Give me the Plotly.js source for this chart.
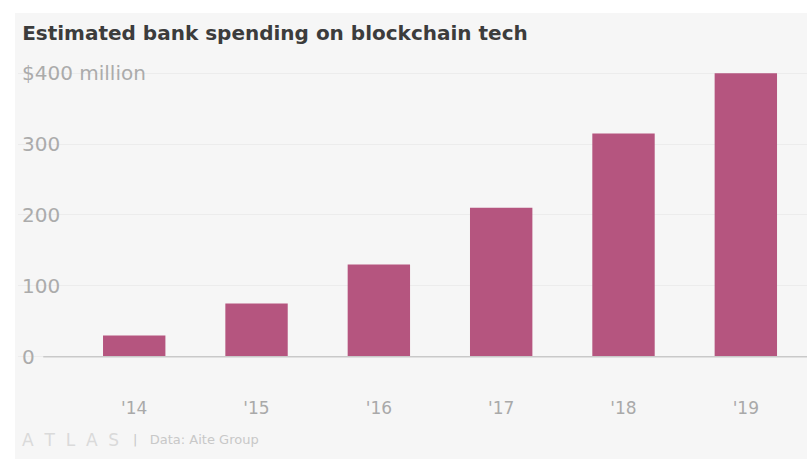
<!DOCTYPE html>
<html>
<head>
<meta charset="utf-8">
<script src="https://cdn.plot.ly/plotly-3.0.1.min.js"></script>
<style>
  html, body { margin: 0; padding: 0; background: #ffffff; }
  #chart { position: absolute; left: 15px; top: 13px; width: 792px; height: 446px; }
</style>
</head>
<body>
<div id="chart"></div>
<script>
const categories = ["'14", "'15", "'16", "'17", "'18", "'19"];
const spending = [30, 75, 130, 210, 315, 400];
const yTickVals = [0, 100, 200, 300, 400];
const yTickText = ["0", "100", "200", "300", "$400 million"];
const titleText = "Estimated bank spending on blockchain tech";
const footerLogo = "A\u00a0\u00a0T\u00a0\u00a0L\u00a0\u00a0A\u00a0\u00a0S";
const footerSource = "|\u00a0\u00a0\u00a0Data: Aite Group";

const trace = {
  type: 'bar',
  x: categories.map((c, i) => i),
  y: spending,
  marker: { color: '#b5557f' },
  hoverinfo: 'skip'
};

const yLabelAnnotations = yTickVals.map((v, i) => ({
  text: yTickText[i],
  xref: 'paper', yref: 'y',
  x: 0.003, y: v, xanchor: 'left', yanchor: 'middle',
  showarrow: false,
  font: { family: 'DejaVu Sans', size: 20, color: '#ababab' }
}));

const layout = {
  width: 792,
  height: 446,
  paper_bgcolor: '#f6f6f6',
  plot_bgcolor: 'rgba(0,0,0,0)',
  margin: { l: 3, r: 0, t: 46, b: 98 },
  bargap: 0.49,
  showlegend: false,
  title: {
    text: titleText,
    x: 0.009, xref: 'container', xanchor: 'left',
    y: 0.955, yref: 'container', yanchor: 'middle',
    font: { family: 'DejaVu Sans', size: 20, color: '#3c3c3c', weight: 'bold' }
  },
  xaxis: {
    range: [-0.95, 5.5],
    tickvals: categories.map((c, i) => i),
    ticktext: categories,
    showgrid: false,
    zeroline: false,
    showline: false,
    ticks: 'outside',
    ticklen: 32,
    tickcolor: 'rgba(0,0,0,0)',
    tickfont: { family: 'DejaVu Sans', size: 17, color: '#a9a9a9' },
    fixedrange: true
  },
  yaxis: {
    range: [-6, 420],
    tickvals: yTickVals,
    showticklabels: false,
    showgrid: true,
    gridcolor: '#ececec',
    gridwidth: 1,
    zeroline: false,
    showline: false,
    ticks: '',
    fixedrange: true
  },
  shapes: [{
    type: 'line', xref: 'paper', yref: 'y',
    x0: 0.032, x1: 1, y0: 0, y1: 0,
    line: { color: '#c9c9c9', width: 1.5 }
  }],
  annotations: yLabelAnnotations.concat([
    {
      text: footerLogo,
      xref: 'paper', yref: 'paper',
      x: 0.003, y: -0.26, xanchor: 'left', yanchor: 'middle',
      showarrow: false,
      font: { family: 'DejaVu Sans', size: 17, color: '#dadada' }
    },
    {
      text: footerSource,
      xref: 'paper', yref: 'paper',
      x: 0.143, y: -0.26, xanchor: 'left', yanchor: 'middle',
      showarrow: false,
      font: { family: 'DejaVu Sans', size: 13, color: '#c8c8c8' }
    }
  ])
};

Plotly.newPlot('chart', [trace], layout, { staticPlot: true, displayModeBar: false });
</script>
</body>
</html>
